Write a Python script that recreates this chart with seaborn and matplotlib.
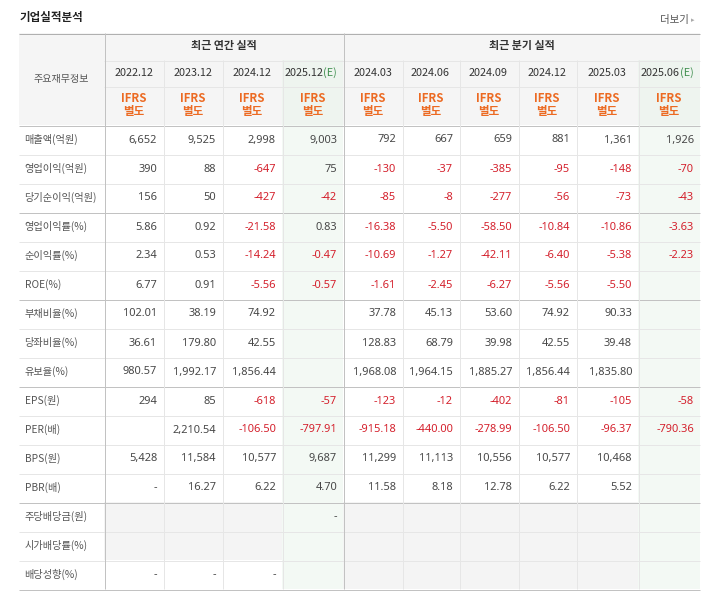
import matplotlib.pyplot as plt
from matplotlib.patches import Rectangle
import seaborn as sns

sns.set_theme(style="white")
plt.rcParams['font.family'] = ['Noto Sans CJK KR', 'DejaVu Sans']

# data
title = "기업실적분석"
more_label = "더보기"
corner_label = "주요재무정보"
group_labels = ["최근 연간 실적", "최근 분기 실적"]
annual_periods = ["2022.12", "2023.12", "2024.12", "2025.12"]
quarter_periods = ["2024.03", "2024.06", "2024.09", "2024.12", "2025.03", "2025.06"]
annual_estimate = [False, False, False, True]
quarter_estimate = [False, False, False, False, False, True]
basis_top = "IFRS"
basis_bottom = "별도"

row_labels = [
    "매출액(억원)", "영업이익(억원)", "당기순이익(억원)",
    "영업이익률(%)", "순이익률(%)", "ROE(%)",
    "부채비율(%)", "당좌비율(%)", "유보율(%)",
    "EPS(원)", "PER(배)", "BPS(원)", "PBR(배)",
    "주당배당금(원)", "시가배당률(%)", "배당성향(%)",
]
row_decimals = [0, 0, 0, 2, 2, 2, 2, 2, 2, 0, 2, 0, 2, 0, 2, 2]
dividend_rows = [13, 14, 15]
group_ends = [3, 6, 9, 13]

annual_values = [
    [6652, 9525, 2998, 9003],
    [390, 88, -647, 75],
    [156, 50, -427, -42],
    [5.86, 0.92, -21.58, 0.83],
    [2.34, 0.53, -14.24, -0.47],
    [6.77, 0.91, -5.56, -0.57],
    [102.01, 38.19, 74.92, None],
    [36.61, 179.80, 42.55, None],
    [980.57, 1992.17, 1856.44, None],
    [294, 85, -618, -57],
    [None, 2210.54, -106.50, -797.91],
    [5428, 11584, 10577, 9687],
    ["-", 16.27, 6.22, 4.70],
    [None, None, None, "-"],
    [None, None, None, None],
    ["-", "-", "-", None],
]
quarter_values = [
    [792, 667, 659, 881, 1361, 1926],
    [-130, -37, -385, -95, -148, -70],
    [-85, -8, -277, -56, -73, -43],
    [-16.38, -5.50, -58.50, -10.84, -10.86, -3.63],
    [-10.69, -1.27, -42.11, -6.40, -5.38, -2.23],
    [-1.61, -2.45, -6.27, -5.56, -5.50, None],
    [37.78, 45.13, 53.60, 74.92, 90.33, None],
    [128.83, 68.79, 39.98, 42.55, 39.48, None],
    [1968.08, 1964.15, 1885.27, 1856.44, 1835.80, None],
    [-123, -12, -402, -81, -105, -58],
    [-915.18, -440.00, -278.99, -106.50, -96.37, -790.36],
    [11299, 11113, 10556, 10577, 10468, None],
    [11.58, 8.18, 12.78, 6.22, 5.52, None],
    [None, None, None, None, None, None],
    [None, None, None, None, None, None],
    [None, None, None, None, None, None],
]

# layout (pixels)
col_edges = [19, 104, 163, 222, 282, 343, 402, 459, 518, 576, 638, 700]
head_y = [33, 60, 86, 125]
row_h = 29

text_dark = "#333333"
text_val = "#474747"
text_label = "#555555"
red = "#d4202c"
orange = "#ec6a22"
green_txt = "#3f8f4f"
head_bg = "#f5f5f5"
est_head_bg = "#eef4ef"
est_bg = "#f3f9f4"
empty_bg = "#f4f4f4"
line_light = "#e6e6e6"
line_dark = "#c2c2c2"

periods = annual_periods + quarter_periods
estimate = annual_estimate + quarter_estimate
values = [a + q for a, q in zip(annual_values, quarter_values)]
n_rows = len(row_labels)
body_top = head_y[-1]
body_bottom = body_top + n_rows * row_h

fig = plt.figure(figsize=(704 / 72, 602 / 72), dpi=72)
ax = fig.add_axes([0, 0, 1, 1])
ax.set_xlim(0, 704)
ax.set_ylim(602, 0)
ax.axis("off")

NUM = ["Noto Sans", "DejaVu Sans"]


def fmt(v, d):
    if isinstance(v, str):
        return v
    return f"{v:,.{d}f}"


# backgrounds
ax.add_patch(Rectangle((col_edges[0], head_y[0]), col_edges[-1] - col_edges[0],
                       head_y[-1] - head_y[0], color=head_bg, lw=0))
for j, est in enumerate(estimate):
    x0, x1 = col_edges[j + 1], col_edges[j + 2]
    if est:
        ax.add_patch(Rectangle((x0, head_y[1]), x1 - x0, head_y[-1] - head_y[1],
                               color=est_head_bg, lw=0))
    for i in range(n_rows):
        y0 = body_top + i * row_h
        if est:
            c = est_bg
        elif i in dividend_rows and values[i][j] is None:
            c = empty_bg
        else:
            continue
        ax.add_patch(Rectangle((x0, y0), x1 - x0, row_h, color=c, lw=0))

# lines
L, R = col_edges[0], col_edges[-1]
for i in range(1, n_rows):
    y = body_top + i * row_h + 0.5
    strong = i in group_ends
    ax.hlines(y, L, R, color=line_dark if strong else line_light, lw=1)
ax.hlines([head_y[1] + 0.5, head_y[2] + 0.5], col_edges[1], R, color=line_light, lw=1)
ax.hlines(head_y[0] + 0.5, L, R, color="#b0b0b0", lw=1)
ax.hlines([head_y[-1] + 0.5, body_bottom + 0.5], L, R, color=line_dark, lw=1)
for k, x in enumerate(col_edges[2:-1]):
    if k + 2 == 5:
        continue
    ax.vlines(x + 0.5, head_y[1], body_bottom, color=line_light, lw=1)
for x in (col_edges[1], col_edges[5]):
    ax.vlines(x + 0.5, head_y[0], body_bottom, color=line_dark, lw=1)

# titles
ax.text(20, 17, title, fontsize=11.5, fontweight="bold", color="#222222",
        ha="left", va="center")
ax.text(689, 20.5, more_label, fontsize=10.5, color="#555555", ha="right", va="center")
ax.text(691, 20.5, "▸", fontsize=7, color="#aaaaaa", ha="left", va="center",
        family=["DejaVu Sans"])

# header
ax.text((col_edges[0] + col_edges[1]) / 2, 79, corner_label, fontsize=10,
        color=text_label, ha="center", va="center")
ax.text((col_edges[1] + col_edges[5]) / 2, 45.5, group_labels[0], fontsize=11,
        fontweight="bold", color=text_dark, ha="center", va="center")
ax.text((col_edges[5] + col_edges[-1]) / 2, 45.5, group_labels[1], fontsize=11,
        fontweight="bold", color=text_dark, ha="center", va="center")
for j, (p, est) in enumerate(zip(periods, estimate)):
    x0, x1 = col_edges[j + 1], col_edges[j + 2]
    xc = (x0 + x1) / 2
    if est:
        ax.text(x1 - 20, 73, p, fontsize=10.8, color=text_dark, ha="right", va="center")
        ax.text(x1 - 20, 73, "(E)", fontsize=10.8, color=green_txt, ha="left", va="center")
    else:
        ax.text(xc, 73, p, fontsize=10.8, color=text_dark, ha="center", va="center")
    ax.text(xc, 99, basis_top, fontsize=11.5, fontweight="bold", color=orange,
            ha="center", va="center")
    ax.text(xc, 111.5, basis_bottom, fontsize=11.5, fontweight="bold", color=orange,
            ha="center", va="center")

# body
for i, lab in enumerate(row_labels):
    yc = body_top + i * row_h + row_h / 2
    ax.text(24.5, yc, lab, fontsize=10.2, color=text_label, ha="left", va="center")
    for j, v in enumerate(values[i]):
        if v is None:
            continue
        neg = not isinstance(v, str) and v < 0
        ax.text(col_edges[j + 2] - 6, yc + 0.5, fmt(v, row_decimals[i]), fontsize=11,
                color=red if neg else text_val, ha="right", va="center", family=NUM)

fig.savefig("out.png", dpi=72)
